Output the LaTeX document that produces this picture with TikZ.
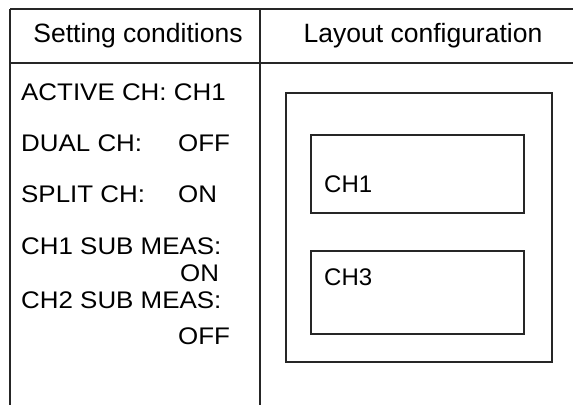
\documentclass[tikz,border=0pt]{standalone}
\usepackage{fontspec}
\setmainfont{Liberation Sans}
\newfontfamily\widesans[FakeStretch=1.08]{Liberation Sans}
\begin{document}
\begin{tikzpicture}[x=1pt,y=-1pt,
  rule/.style={line width=1.1pt,black!85},
  boxline/.style={draw,line width=1.3pt,black!85},
  headtxt/.style={font=\fontsize{26.5}{29}\selectfont,anchor=base,inner sep=0pt},
  condtxt/.style={font=\widesans\fontsize{24}{27}\selectfont,anchor=base west,inner sep=0pt},
  chtxt/.style={font=\fontsize{24}{27}\selectfont,anchor=base west,inner sep=0pt}]
\useasboundingbox (0,0) rectangle (573,405);
% table rules
\coordinate (tl) at (10,9);
\coordinate (tr) at (573,9);
\coordinate (hl) at (10,63);
\coordinate (hr) at (573,63);
\coordinate (bl) at (10,405);
\coordinate (dt) at (260,9);
\coordinate (db) at (260,405);
\draw[rule] (tl) -- (tr);
\draw[rule] (hl) -- (hr);
\draw[rule] (tl) -- (bl);
\draw[rule] (dt) -- (db);
% headers
\node[headtxt] (h1) at (138,42) {Setting conditions};
\node[headtxt] (h2) at (423,42) {Layout configuration};
% conditions
\node[condtxt] (c1) at (21,100) {ACTIVE CH: CH1};
\node[condtxt] (c2) at (21,151) {DUAL CH:};
\node[condtxt] (c2v) at (178,151) {OFF};
\node[condtxt] (c3) at (21,202) {SPLIT CH:};
\node[condtxt] (c3v) at (178,202) {ON};
\node[condtxt] (c4) at (21,254) {CH1 SUB MEAS:};
\node[condtxt] (c4v) at (180,281) {ON};
\node[condtxt] (c5) at (21,308) {CH2 SUB MEAS:};
\node[condtxt] (c5v) at (178,344) {OFF};
% layout
\draw[boxline] (286,93) rectangle (552,362);
\draw[boxline] (311,135) rectangle (524,213);
\draw[boxline] (311,251) rectangle (524,334);
\node[chtxt] (ch1) at (324,192) {CH1};
\node[chtxt] (ch3) at (324,285) {CH3};
\end{tikzpicture}
\end{document}
